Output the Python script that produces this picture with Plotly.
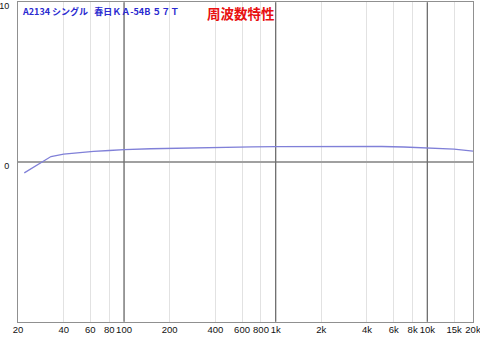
import math
import plotly.graph_objects as go

freqs = [22, 33, 40, 50, 63, 80, 100, 150, 200, 300, 500, 700, 1000, 2000, 3000, 5000, 7000, 10000, 15000, 20000]
resp_db = [-0.68, 0.34, 0.49, 0.58, 0.66, 0.72, 0.78, 0.83, 0.86, 0.90, 0.93, 0.95, 0.96, 0.98, 0.98, 0.97, 0.94, 0.88, 0.80, 0.68]

x_tickvals = [20, 40, 60, 80, 100, 200, 400, 600, 800, 1000, 2000, 4000, 6000, 8000, 10000, 15000, 20000]
x_ticktext = ["20", "40", "60", "80", "100", "200", "400", "600", "800", "1k", "2k", "4k", "6k", "8k", "10k", "15k", "20k"]
major_freqs = [100, 1000, 10000]
y_min, y_max = -10, 10
y_tickvals = [0, 10]
y_ticktext = ["0", "10"]

title_left = "A2134 シングル\u00a0\u00a0\u00a0春日ＫＡ-54B ５７Ｔ"
title_red = "周波数特性"

CJK = "Noto Sans CJK JP"
LAT = "Liberation Sans, Noto Sans CJK JP"

fig = go.Figure()
for f in major_freqs:
    fig.add_trace(go.Scatter(x=[f, f], y=[y_min, y_max], mode="lines",
                             line=dict(color="#6e6e6e", width=1.3),
                             hoverinfo="skip", showlegend=False))
fig.add_trace(go.Scatter(x=freqs, y=resp_db, mode="lines",
                         line=dict(color="#8080d8", width=1.3),
                         hoverinfo="skip", showlegend=False))

eps = 1e-4
fig.update_layout(
    width=480, height=340,
    margin=dict(l=18, r=7, t=2, b=18, autoexpand=False),
    paper_bgcolor="white", plot_bgcolor="white",
    font=dict(family=LAT, size=10, color="black"),
    xaxis=dict(type="log", range=[math.log10(20) - eps, math.log10(20000) + eps],
               tickvals=x_tickvals, ticktext=x_ticktext, ticks="", tickangle=0,
               automargin=False, ticklabeloverflow="allow", ticklabelstandoff=-1,
               showgrid=True, gridcolor="#e2e2e2", gridwidth=1,
               showline=True, linecolor="#909090", linewidth=1, mirror=True,
               zeroline=False, tickfont=dict(family=LAT, size=9.5, color="#111111")),
    yaxis=dict(range=[y_min - 0.01, y_max + 0.01], tickvals=y_tickvals, ticktext=y_ticktext,
               ticks="", automargin=False, ticklabeloverflow="allow",
               ticklabelstandoff=6, ticklabelshift=4,
               showgrid=False, zeroline=True, zerolinecolor="#a0a0a0", zerolinewidth=2,
               showline=True, linecolor="#909090", linewidth=1, mirror=True,
               tickfont=dict(family=LAT, size=9, color="#111111")),
    annotations=[
        dict(text="<b>" + title_left + "</b>", xref="paper", yref="paper",
             x=0.004, y=0.997, xanchor="left", yanchor="top", showarrow=False,
             font=dict(family=CJK, size=9, color="#2a2ad0")),
        dict(text="<b>" + title_red + "</b>", xref="paper", yref="paper",
             x=0.41, y=1.003, xanchor="left", yanchor="top", showarrow=False,
             font=dict(family=CJK, size=13.5, color="#e81010")),
    ],
)

fig.write_html("out.html")
